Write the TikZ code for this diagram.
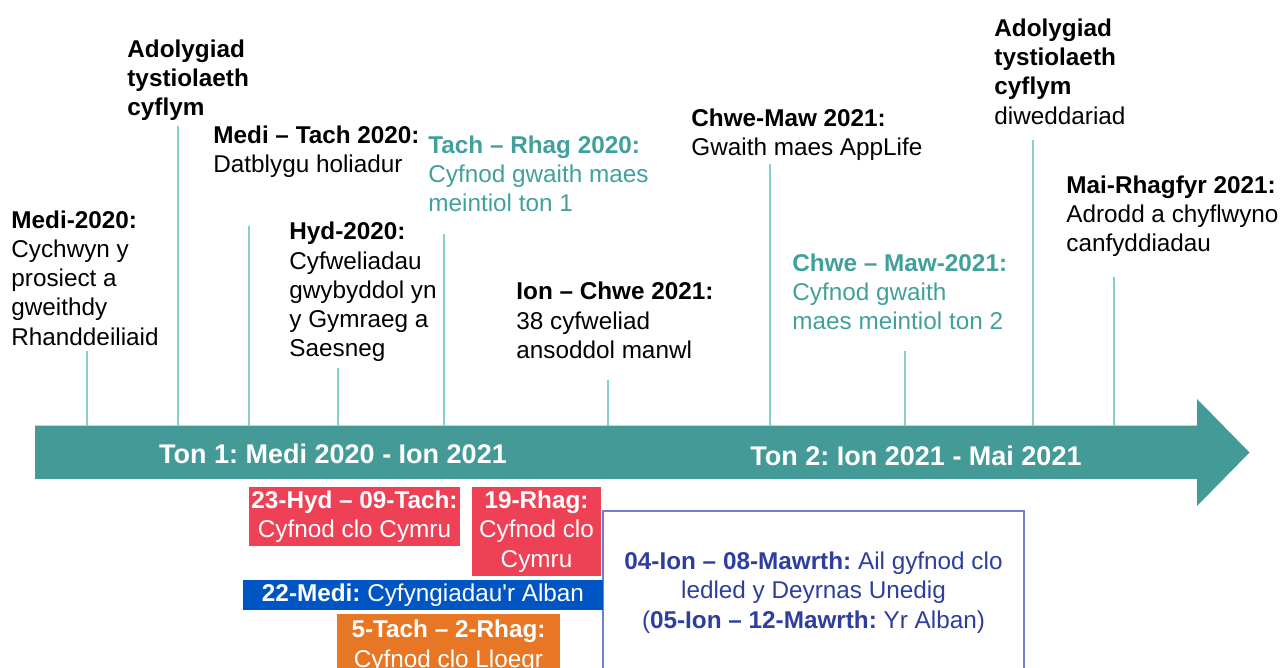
\documentclass[tikz,border=0pt]{standalone}
\usepackage{fontspec}
\setmainfont{Liberation Sans}
\definecolor{arrowc}{HTML}{439A97}
\definecolor{tickc}{HTML}{86CFCF}
\definecolor{tealtxt}{HTML}{41A09C}
\definecolor{redc}{HTML}{EF4155}
\definecolor{bluec}{HTML}{0055C5}
\definecolor{orangec}{HTML}{E77724}
\definecolor{outlinec}{HTML}{7080CF}
\definecolor{navytxt}{HTML}{2E3E9E}
\frenchspacing
\begin{document}
\begin{tikzpicture}[x=0.5pt,y=-0.5pt,
  lbl/.style={anchor=north west, inner sep=0, align=left, font=\fontsize{12.15}{14.65}\selectfont},
  teallbl/.style={lbl, text=tealtxt},
  tick/.style={draw=tickc, line width=1pt},
  wave/.style={inner sep=0, text=white, font=\fontsize{13.5}{15}\selectfont\bfseries},
  evbox/.style={inner sep=0, align=center, text=white, font=\fontsize{12.15}{14.65}\selectfont},
  outbox/.style={draw=outlinec, line width=0.6pt, fill=white, inner sep=0, align=center, text=navytxt, font=\fontsize{12.15}{14.65}\selectfont}]
\useasboundingbox (0,0) rectangle (1283,668);
\clip (0,0) rectangle (1283,668);

% timeline arrow
\fill[arrowc] (35,425.5) -- (1197,425.5) -- (1197,399) -- (1249.5,452.5) -- (1197,506) -- (1197,479) -- (35,479) -- cycle;
\coordinate (axis) at (0,425.5);
\node[wave] (w1) at (333,454) {Ton 1: Medi 2020 - Ion 2021};
\node[wave] (w2) at (916,456) {Ton 2: Ion 2021 - Mai 2021};

% event labels
\node[lbl] (e1) at (11,210) {\textbf{Medi-2020:}\\Cychwyn y\\prosiect a\\gweithdy\\Rhanddeiliaid};
\node[lbl] (e2) at (127,39.3) {\textbf{Adolygiad}\\\textbf{tystiolaeth}\\\textbf{cyflym}};
\node[lbl] (e3) at (213,125) {\textbf{Medi – Tach 2020:}\\Datblygu holiadur};
\node[lbl] (e4) at (289,221.7) {\textbf{Hyd-2020:}\\Cyfweliadau\\gwybyddol yn\\y Gymraeg a\\Saesneg};
\node[teallbl] (e5) at (428,135) {\textbf{Tach – Rhag 2020:}\\Cyfnod gwaith maes\\meintiol ton 1};
\node[lbl] (e6) at (516,281.7) {\textbf{Ion – Chwe 2021:}\\38 cyfweliad\\ansoddol manwl};
\node[lbl] (e7) at (691,108.3) {\textbf{Chwe-Maw 2021:}\\Gwaith maes AppLife};
\node[teallbl] (e8) at (792,253) {\textbf{Chwe – Maw-2021:}\\Cyfnod gwaith\\maes meintiol ton 2};
\node[lbl] (e9) at (994,18.3) {\textbf{Adolygiad}\\\textbf{tystiolaeth}\\\textbf{cyflym}\\diweddariad};
\node[lbl] (e10) at (1066,175) {\textbf{Mai-Rhagfyr 2021:}\\Adrodd a chyflwyno\\canfyddiadau};

% tick lines
\coordinate (t1) at (86.5,351);
\coordinate (t2) at (178,125.7);
\coordinate (t3) at (249,225.7);
\coordinate (t4) at (338,368);
\coordinate (t5) at (444,234.3);
\coordinate (t6) at (608,380);
\coordinate (t7) at (770,164.3);
\coordinate (t8) at (905,351);
\coordinate (t9) at (1033,140);
\coordinate (t10) at (1114,277);
\foreach \t in {t1,t2,t3,t4,t5,t6,t7,t8,t9,t10}
  \draw[tick] (\t) -- (\t |- axis);

% lockdown boxes
\node[outbox, minimum width=210.5pt, minimum height=81.5pt] (b5) at (813.5,592.5)
  {\textbf{04-Ion – 08-Mawrth:} Ail gyfnod clo\\ledled y Deyrnas Unedig\\(\textbf{05-Ion – 12-Mawrth:} Yr Alban)};
\node[evbox, fill=redc, minimum width=105.5pt, minimum height=29.5pt] (b1) at (354.5,516.5)
  {\textbf{23-Hyd – 09-Tach:}\\Cyfnod clo Cymru};
\node[evbox, fill=redc, minimum width=64.5pt, minimum height=44.5pt] (b2) at (536.5,531.5)
  {\textbf{19-Rhag:}\\Cyfnod clo\\Cymru};
\node[evbox, fill=bluec, minimum width=180pt, minimum height=15pt] (b3) at (423,595)
  {\textbf{22-Medi:} Cyfyngiadau\textquotesingle r Alban};
\node[evbox, fill=orangec, anchor=north, minimum width=111.5pt, inner ysep=2.85pt] (b4) at (448.5,614)
  {\textbf{5-Tach – 2-Rhag:}\\Cyfnod clo Lloegr};
\end{tikzpicture}
\end{document}
